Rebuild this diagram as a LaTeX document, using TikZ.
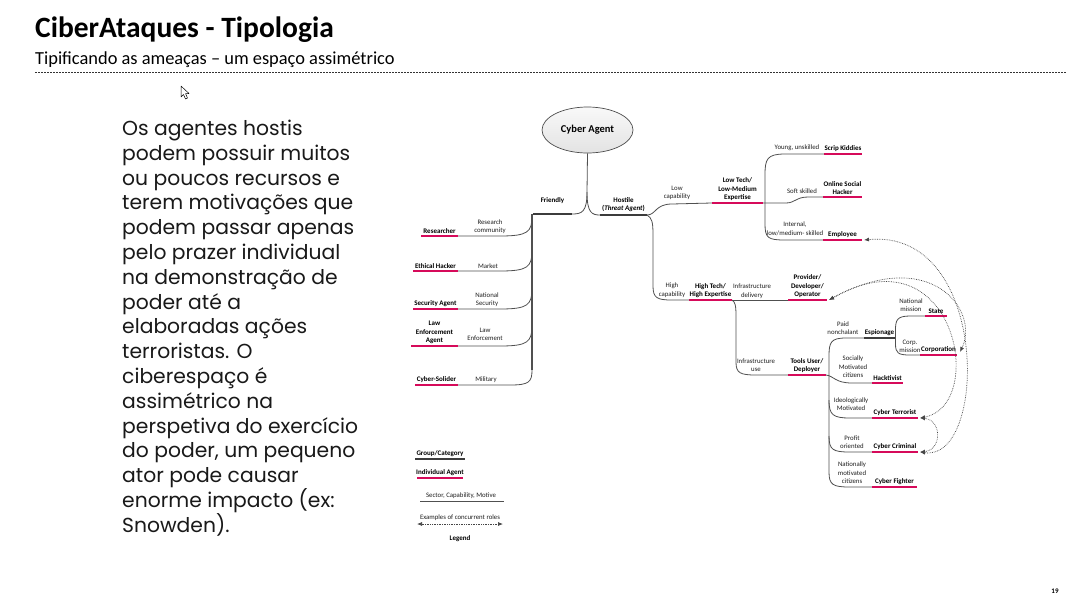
\documentclass[tikz,border=0pt]{standalone}
\usepackage{fontspec}
\setmainfont{Carlito}
\newfontfamily\gothic{Poppins}
\usetikzlibrary{arrows.meta,shapes.geometric}
\definecolor{agpink}{RGB}{214,10,90}
\definecolor{grpgray}{RGB}{60,60,60}
\definecolor{lncol}{RGB}{80,80,80}
\newcommand{\mkbar}[7]{%
  \coordinate (#1-l) at (#2,#4);
  \coordinate (#1-r) at (#3,#4);
  \draw[#5] (#1-l) -- (#1-r);
  \node[agent, anchor=south] (#1) at ({(#2+#3)/2},{#4-#6}) {#7};
}
\begin{document}
\begin{tikzpicture}[x=1pt,y=-1pt,
  conn/.style={draw=lncol, line width=0.8pt},
  pinkbar/.style={draw=agpink, line width=2.6pt},
  graybar/.style={draw=grpgray, line width=2.6pt},
  agent/.style={font=\fontsize{7}{8.4}\selectfont\bfseries, align=center, inner sep=0pt, text=black},
  lbl/.style={font=\fontsize{6.8}{8.6}\selectfont, align=center, inner sep=0pt, text=black!88},
  conc/.style={draw=gray!55!black, densely dotted, line width=0.7pt, {Latex[length=5pt,width=4pt]}-{Latex[length=5pt,width=4pt]}},
  para/.style={font=\gothic\fontsize{20.3}{24.8}\selectfont, anchor=base west, inner sep=0pt, text=black!90},
]
\useasboundingbox (0,0) rectangle (1067,600);
\fill[white] (0,0) rectangle (1067,600);

% title
\node[anchor=base west, inner sep=0pt, font=\fontsize{29.5}{32}\selectfont\bfseries] (title) at (35,37) {CiberAtaques - Tipologia};
\node[anchor=base west, inner sep=0pt, font=\fontsize{18.4}{21}\selectfont] (subtitle) at (35,64.5) {Tipificando as ameaças – um espaço assimétrico};
\coordinate (dl) at (35,72);
\coordinate (dr) at (1067,72);
\draw[black!80, line width=0.6pt, dash pattern=on 2pt off 1pt] (dl) -- (dr);

% cursor
\draw[fill=white, line width=0.5pt, line join=round] (181,86) -- (181,97) -- (183.5,94.5) -- (185.5,99) -- (187.5,98) -- (185.5,93.5) -- (189,93.5) -- cycle;

% paragraph
\foreach \t [count=\i] in {Os agentes hostis, podem possuir muitos, ou poucos recursos e, terem motivações que, podem passar apenas, pelo prazer individual, na demonstração de, poder até a, elaboradas ações, terroristas. O, ciberespaço é, assimétrico na, perspetiva do exercício, {do poder, um pequeno}, ator pode causar, enorme impacto (ex:, Snowden).}
  \node[para] (p\i) at (122,{135.5+(\i-1)*24.8}) {\t};

% root
\node[ellipse, draw=gray!60!black, line width=0.7pt, top color=gray!5, bottom color=gray!22, minimum width=91pt, minimum height=46pt, inner sep=0pt, font=\fontsize{10.5}{12}\selectfont\bfseries] (ca) at (587.5,130) {Cyber Agent};

% groups
\mkbar{fr}{533}{572}{214}{graybar}{10}{Friendly}
\mkbar{ho}{600}{647}{215}{graybar}{3}{Hostile\\(\textit{Threat Agent})}
\coordinate (split) at (587,192);
\draw[conn] (ca.south) -- (split) .. controls (587,212) and (582,214) .. (fr-r);
\draw[conn] (split) .. controls (587,213) and (592,215) .. (ho-l);

% friendly leaves
\mkbar{rs}{421}{458}{236}{pinkbar}{2}{Researcher}
\mkbar{eh}{413}{458}{271}{pinkbar}{2}{Ethical Hacker}
\mkbar{sa}{413}{458}{309}{pinkbar}{2}{Security Agent}
\mkbar{le}{411}{458}{346}{pinkbar}{2}{Law\\Enforcement\\Agent}
\mkbar{cs}{415}{458}{385}{pinkbar}{2}{Cyber-Solider}
\coordinate (ftb) at (532,370);
\draw[conn, line width=1.2pt] (532,214) -- (ftb);
\draw[conn] (rs-r) -- (500,236) .. controls (528,236) and (532,232) .. (532,216);
\draw[conn] (eh-r) -- (500,271) .. controls (528,271) and (532,267) .. (532,250);
\draw[conn] (sa-r) -- (500,309) .. controls (528,309) and (532,305) .. (532,288);
\draw[conn] (le-r) -- (500,346) .. controls (528,346) and (532,342) .. (532,325);
\draw[conn] (cs-r) -- (510,385) .. controls (529,385) and (532,382) .. (ftb);
\node[lbl] (l-rs) at (490,226.5) {Research\\community};
\node[lbl] (l-eh) at (488,266) {Market};
\node[lbl] (l-sa) at (487,299.5) {National\\Security};
\node[lbl] (l-le) at (485,334.5) {Law\\Enforcement};
\node[lbl] (l-cs) at (486,379.5) {Military};

% hostile: capabilities
\mkbar{lt}{712}{763}{203}{pinkbar}{2}{Low Tech/\\Low-Medium\\Expertise}
\mkbar{ht}{689}{732}{300}{pinkbar}{2}{High Tech/\\High Expertise}
\draw[conn] (ho-r) .. controls (656,215) and (655,204) .. (672,204) -- (lt-l);
\draw[conn] (ho-r) .. controls (652,218) and (653,222) .. (653,235) -- (653,286) .. controls (653,298) and (657,300) .. (672,300) -- (ht-l);
\node[lbl] (l-lc) at (677,193) {Low\\capability};
\node[lbl] (l-hc) at (672,290) {High\\capability};

% low tech leaves
\mkbar{sk}{824}{862}{154}{pinkbar}{2}{Scrip Kiddies}
\mkbar{os}{823}{862}{197}{pinkbar}{2}{Online Social\\Hacker}
\mkbar{em}{823}{862}{240}{pinkbar}{2}{Employee}
\draw[conn] (sk-l) -- (785,154) .. controls (767,154) and (765,159) .. (765,175) -- (765,224) .. controls (765,238) and (768,240) .. (785,240) -- (em-l);
\draw[conn] (lt-r) -- (786,203) .. controls (795,203) and (796,197) .. (808,197) -- (os-l);
\node[lbl] (l-sk) at (797,148) {Young, unskilled};
\node[lbl] (l-os) at (802,191) {Soft skilled};
\node[lbl] (l-em) at (795,229) {Internal,\\low/medium- skilled};

% high tech leaves
\mkbar{pr}{788}{827}{300}{pinkbar}{2}{Provider/\\Developer/\\Operator}
\mkbar{tu}{788}{826}{375}{pinkbar}{2}{Tools User/\\Deployer}
\draw[conn] (ht-r) -- (pr-l);
\draw[conn] (ht-r) .. controls (735,302) and (736,305) .. (736,316) -- (736,362) .. controls (736,373) and (740,375) .. (756,375) -- (tu-l);
\node[lbl] (l-pr) at (752,291) {Infrastructure\\delivery};
\node[lbl] (l-tu) at (756,365) {Infrastructure\\use};

% tools user leaves
\mkbar{es}{864}{895}{338}{graybar}{2}{Espionage}
\mkbar{hk}{872}{903}{383}{pinkbar}{2}{Hacktivist}
\mkbar{ct}{872}{918}{418}{pinkbar}{2}{Cyber Terrorist}
\mkbar{cc}{872}{918}{452}{pinkbar}{2}{Cyber Criminal}
\mkbar{cf}{872}{917}{487}{pinkbar}{2}{Cyber Fighter}
\draw[conn] (es-l) -- (846,338) .. controls (831,338) and (829,342) .. (829,356) -- (829,472) .. controls (829,485) and (833,487) .. (850,487) -- (cf-l);
\draw[conn] (tu-r) .. controls (834,376) and (835,383) .. (852,383) -- (hk-l);
\draw[conn] (829,400) .. controls (829,415) and (833,418) .. (850,418) -- (ct-l);
\draw[conn] (829,436) .. controls (829,450) and (833,452) .. (850,452) -- (cc-l);
\node[lbl] (l-es) at (843,328) {Paid\\nonchalant};
\node[lbl] (l-hk) at (853,367) {Socially\\Motivated\\citizens};
\node[lbl] (l-ct) at (851,404) {Ideologically\\Motivated};
\node[lbl] (l-cc) at (852,442) {Profit\\oriented};
\node[lbl] (l-cf) at (852,473) {Nationally\\motivated\\citizens};

% espionage leaves
\mkbar{st}{925}{947}{316}{pinkbar}{2}{State}
\mkbar{co}{920}{957}{355}{pinkbar}{2}{Corporation}
\draw[conn] (st-l) -- (910,316) .. controls (897,316) and (895.5,320) .. (895.5,330) -- (895.5,344) .. controls (895.5,353) and (898,355) .. (910,355) -- (co-l);
\node[lbl] (l-st) at (911,305) {National\\mission};
\node[lbl] (l-co) at (910,346.5) {Corp.\\mission};

% concurrent roles
\draw[conc] ([xshift=2pt]em-r) .. controls (990,228) and (988,462) .. ([xshift=2pt]cc-r);
\draw[conc] ([xshift=2pt]pr-r) .. controls (955,228) and (988,405) .. ([xshift=2pt]ct-r);
\draw[conc] ([xshift=2pt]pr-r) .. controls (930,245) and (980,310) .. ([xshift=3pt,yshift=3pt]co-r);
\draw[conc] ([xshift=2pt]ct-r) .. controls (942,420) and (942,450) .. ([xshift=2pt]cc-r);

% legend
\mkbar{lgg}{415}{465}{459}{graybar}{2}{Group/Category}
\mkbar{lgi}{417}{463}{478}{pinkbar}{2}{Individual Agent}
\coordinate (lsl) at (420,501);
\coordinate (lsr) at (504,501);
\draw[conn] (lsl) -- (lsr);
\node[lbl, anchor=south] (l-sec) at (461,499) {Sector, Capability, Motive};
\coordinate (lal) at (417,524);
\coordinate (lar) at (503,524);
\draw[conc] (lal) -- (lar);
\node[lbl, anchor=south] (l-ex) at (460,521) {Examples of concurrent roles};
\node[agent] (lgd) at (460,539) {Legend};

% page number
\node[inner sep=0pt, font=\fontsize{7}{8}\selectfont\bfseries] (pg) at (1055,591.5) {19};
\end{tikzpicture}
\end{document}
